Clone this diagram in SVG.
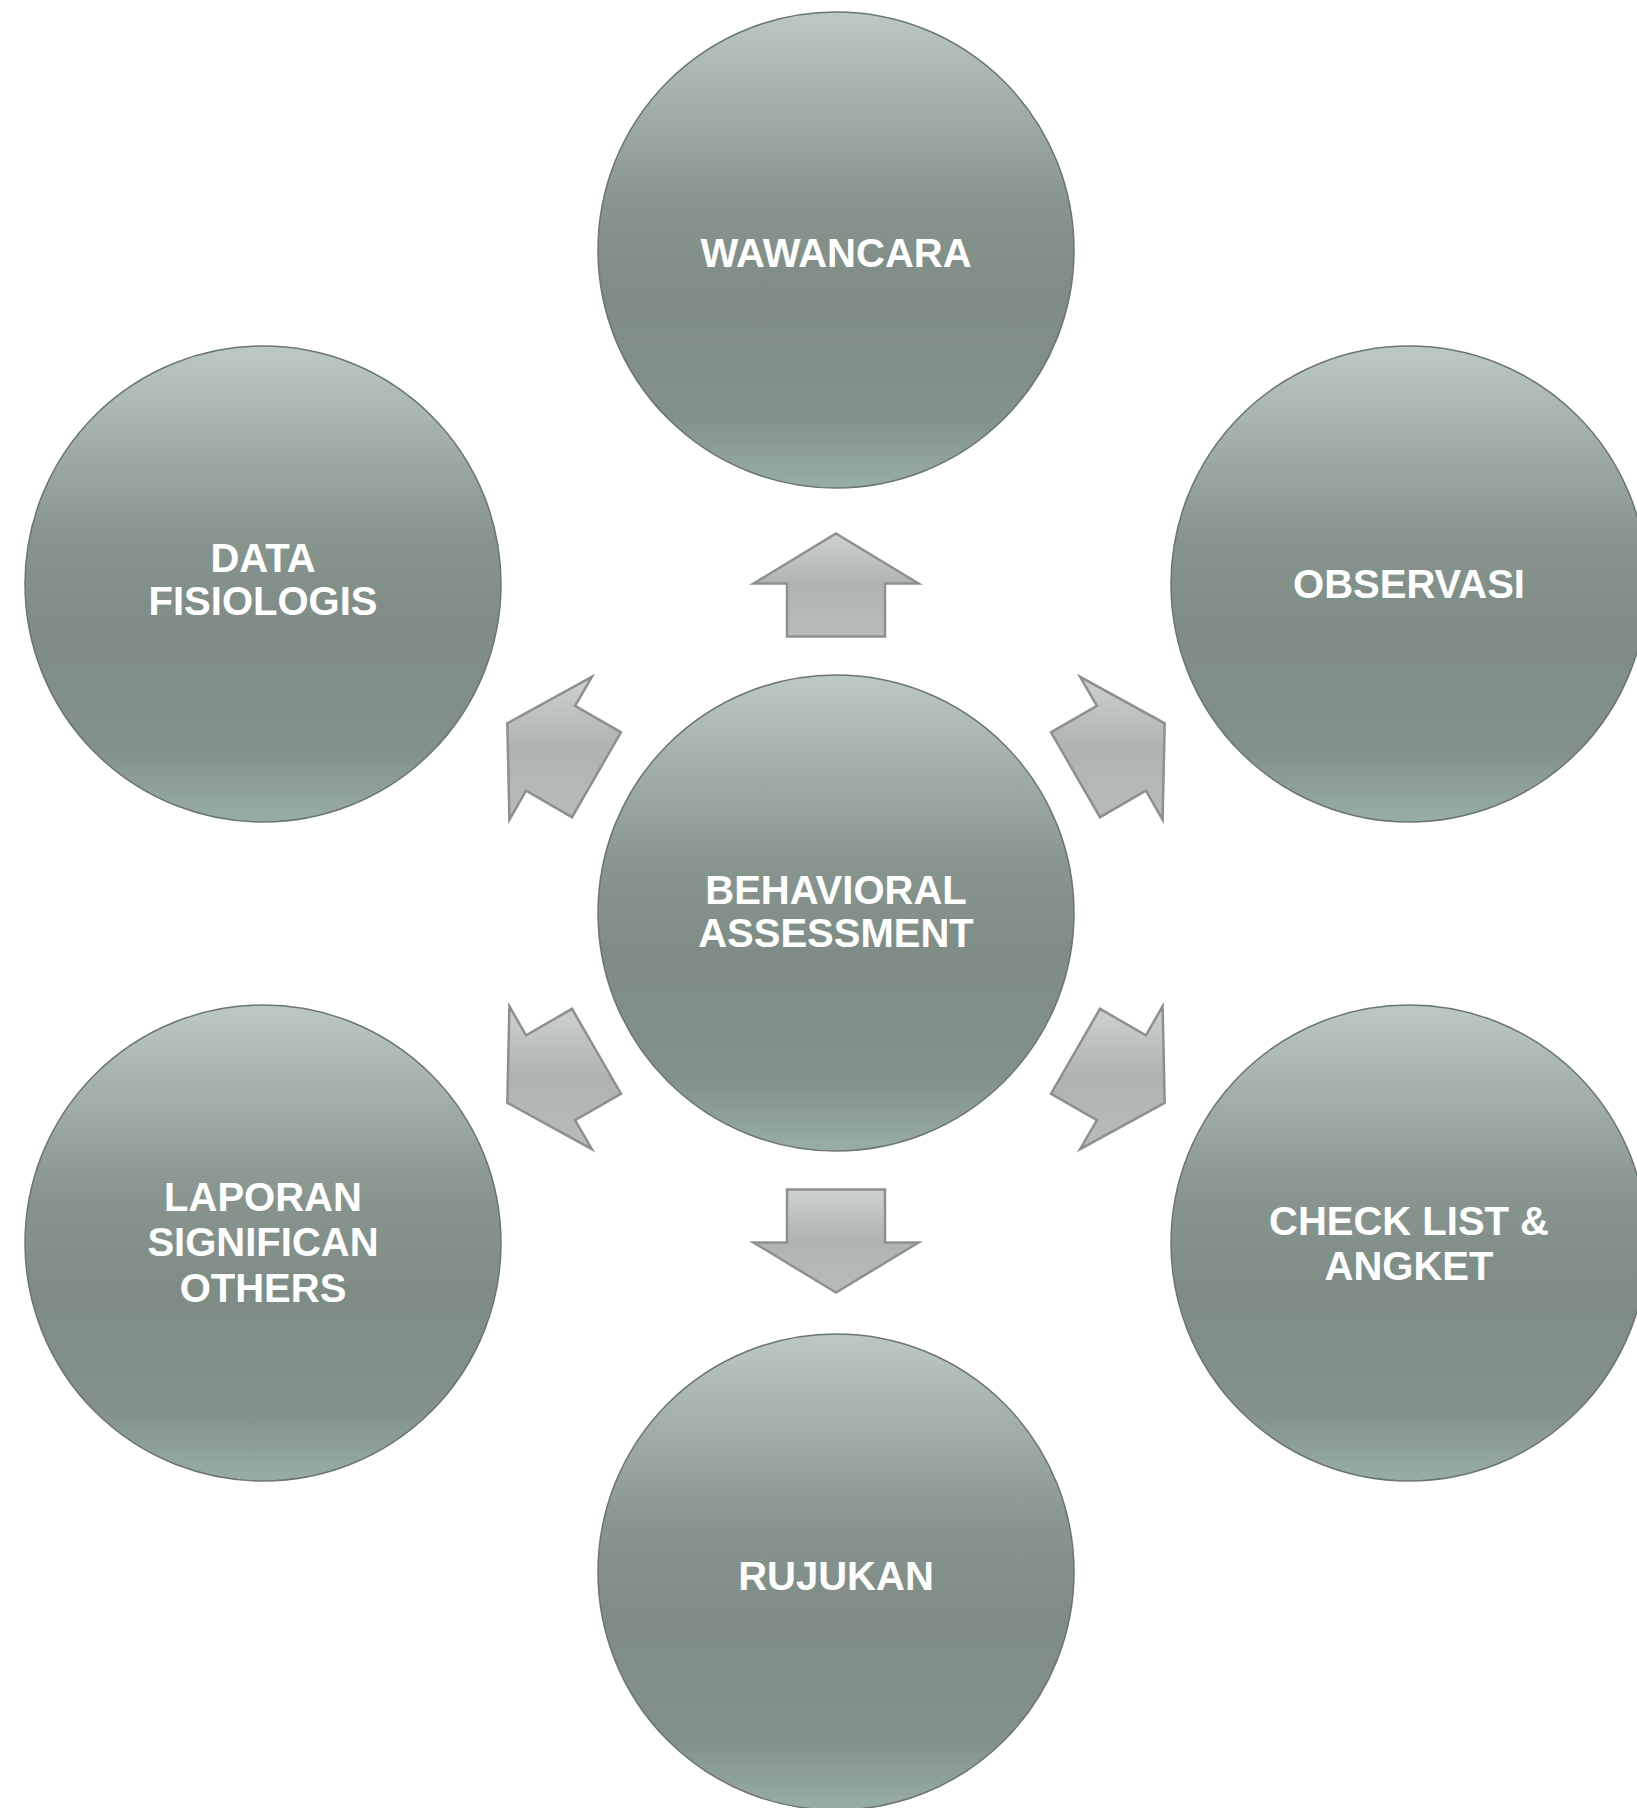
<svg xmlns="http://www.w3.org/2000/svg" width="1637" height="1808" viewBox="0 0 1637 1808">
<defs>
<linearGradient id="cg" x1="0" y1="0" x2="0" y2="1">
<stop offset="0" stop-color="#bcc8c2"/>
<stop offset="0.4" stop-color="#87958e"/>
<stop offset="0.6" stop-color="#7e8c85"/>
<stop offset="0.85" stop-color="#82918a"/>
<stop offset="1" stop-color="#98aea4"/>
</linearGradient>
<linearGradient id="ag" x1="0" y1="0" x2="0" y2="1">
<stop offset="0" stop-color="#cdd1cf"/>
<stop offset="0.5" stop-color="#aeb3b0"/>
<stop offset="1" stop-color="#b8bcba"/>
</linearGradient>
<style>
.c{fill:url(#cg);stroke:#6c7671;stroke-width:1.5}
.a{fill:url(#ag);stroke:#8c918e;stroke-width:2.5;stroke-linejoin:miter}
.t{font-family:"Liberation Sans",Arial,sans-serif;font-weight:bold;font-size:40px;fill:#ffffff;text-anchor:middle}
</style>
</defs>
<rect width="1637" height="1808" fill="#ffffff"/>
<g id="connectors">
<polygon class="a" points="836,533.5 918.5,583.5 885,583.5 885,636.5 787,636.5 787,583.5 753.5,583.5"/>
<polygon class="a" points="1164.7,723.3 1162.6,819.7 1145.9,790.7 1100,817.2 1051,732.3 1096.9,705.8 1080.1,676.8"/>
<polygon class="a" points="1164.7,1102.8 1080.1,1149.2 1096.9,1120.2 1051,1093.7 1100,1008.8 1145.9,1035.3 1162.6,1006.3"/>
<polygon class="a" points="836,1292.5 753.5,1242.5 787,1242.5 787,1189.5 885,1189.5 885,1242.5 918.5,1242.5"/>
<polygon class="a" points="507.3,1102.8 591.9,1149.2 575.1,1120.2 621,1093.7 572,1008.8 526.1,1035.3 509.4,1006.3"/>
<polygon class="a" points="507.3,723.3 509.4,819.7 526.1,790.7 572,817.2 621,732.3 575.1,705.8 591.9,676.8"/>
</g>
<g id="center">
<circle class="c" cx="836" cy="913" r="238"/>
<text class="t" x="836" y="904">BEHAVIORAL</text>
<text class="t" x="836" y="947">ASSESSMENT</text>
</g>
<g id="wawancara">
<circle class="c" cx="836" cy="250" r="238"/>
<text class="t" x="836" y="267">WAWANCARA</text>
</g>
<g id="observasi">
<circle class="c" cx="1409" cy="584" r="238"/>
<text class="t" x="1409" y="598">OBSERVASI</text>
</g>
<g id="checklist">
<circle class="c" cx="1409" cy="1243" r="238"/>
<text class="t" x="1409" y="1235">CHECK LIST &amp;</text>
<text class="t" x="1409" y="1280">ANGKET</text>
</g>
<g id="rujukan">
<circle class="c" cx="836" cy="1572" r="238"/>
<text class="t" x="836" y="1590">RUJUKAN</text>
</g>
<g id="laporan">
<circle class="c" cx="263" cy="1243" r="238"/>
<text class="t" x="263" y="1211">LAPORAN</text>
<text class="t" x="263" y="1256">SIGNIFICAN</text>
<text class="t" x="263" y="1302">OTHERS</text>
</g>
<g id="datafisiologis">
<circle class="c" cx="263" cy="584" r="238"/>
<text class="t" x="263" y="572">DATA</text>
<text class="t" x="263" y="615">FISIOLOGIS</text>
</g>
</svg>
